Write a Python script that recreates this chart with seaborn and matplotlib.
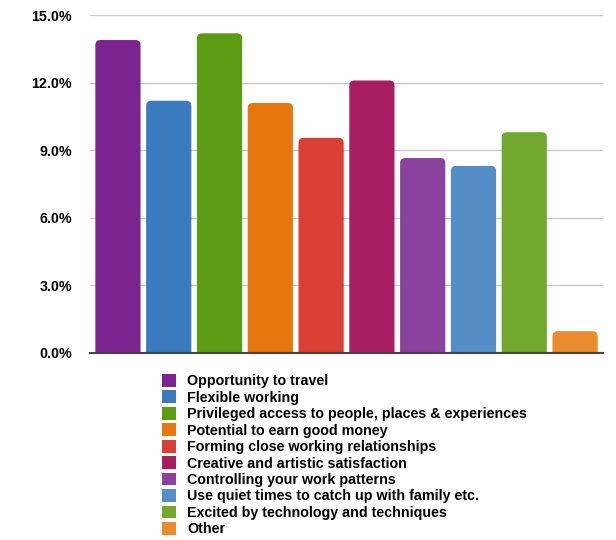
import numpy as np
import pandas as pd
import matplotlib.pyplot as plt
import seaborn as sns
from matplotlib.patches import FancyBboxPatch, Rectangle

# data
categories = ['Opportunity to travel', 'Flexible working',
              'Privileged access to people, places & experiences',
              'Potential to earn good money', 'Forming close working relationships',
              'Creative and artistic satisfaction', 'Controlling your work patterns',
              'Use quiet times to catch up with family etc.',
              'Excited by technology and techniques', 'Other']
values = [13.9, 11.2, 14.2, 11.1, 9.55, 12.1, 8.65, 8.3, 9.8, 0.95]
colors = ['#7b2490', '#3a7bbe', '#5b9c14', '#e8760e', '#d93f33',
          '#a91d63', '#8a429e', '#558ec7', '#71a82e', '#eb8a2f']
yticks = [0, 3, 6, 9, 12, 15]
ytick_labels = ['0.0%', '3.0%', '6.0%', '9.0%', '12.0%', '15.0%']

sns.set_theme(style='white')
plt.rcParams['font.family'] = ['Liberation Sans', 'DejaVu Sans']
plt.rcParams['text.color'] = 'black'
plt.rcParams['ytick.color'] = 'black'

W, H = 616, 540
fig = plt.figure(figsize=(W/100, H/100), dpi=100)
ax = fig.add_axes([90/W, 1-352.5/H, (603-90)/W, (352.5-15.3)/H])

df = pd.DataFrame({'reason': categories, 'share': values})
sns.barplot(data=df, x='reason', y='share', hue='reason', palette=colors,
            saturation=1, width=0.89, dodge=False, legend=False, ax=ax)

ax.set_ylim(0, 15)
ax.set_xlim(-0.55, 9.55)

# swap the plain bars for ones with rounded tops
r = 0.1
asp = (5/22.5)/r
for p in list(ax.patches):
    x, w, h = p.get_x(), p.get_width(), p.get_height()
    fc = p.get_facecolor()
    p.remove()
    ry = r*asp
    ax.add_patch(FancyBboxPatch((x, -ry), w, h+ry,
                                boxstyle=f"round,pad=0,rounding_size={r}",
                                mutation_aspect=asp, fc=fc, ec='none', zorder=2))

ax.set_yticks(yticks)
ax.set_yticklabels(ytick_labels, fontsize=10.3, fontweight='bold', color='black')
ax.tick_params(axis='y', length=0, pad=13)
ax.set_xticks([])
ax.set_xlabel('')
ax.set_ylabel('')
ax.yaxis.grid(True, color='#c8c8c8', lw=1)
ax.set_axisbelow(True)
for s in ['top', 'right', 'left']:
    ax.spines[s].set_visible(False)
ax.spines['bottom'].set_color('#444444')
ax.spines['bottom'].set_linewidth(1.5)
ax.spines['bottom'].set_zorder(3)

handles = [Rectangle((0, 0), 1, 1, fc=c, ec='none') for c in colors]
fig.legend(handles, categories, loc='upper left',
           bbox_to_anchor=(162/W, 1-374/H), frameon=False,
           handlelength=1.0, handleheight=1.0, handletextpad=0.75,
           labelspacing=0.15, borderpad=0, borderaxespad=0,
           prop=dict(weight='bold', size=10.3))

fig.savefig('out.png', dpi=100)
